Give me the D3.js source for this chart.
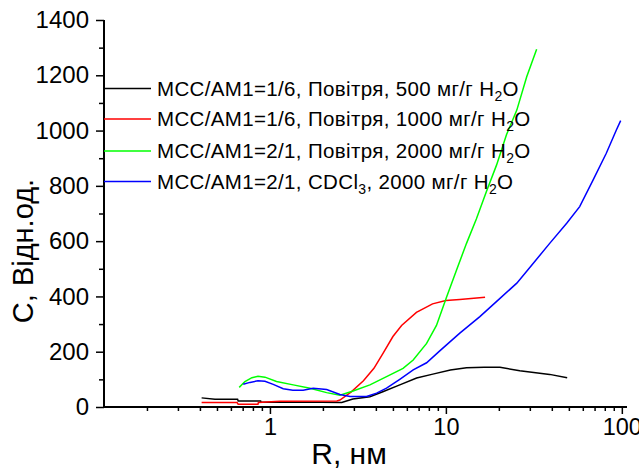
<!DOCTYPE html>
<html><head><meta charset="utf-8">
<script src="https://cdn.jsdelivr.net/npm/d3@7/dist/d3.min.js"></script>
<style>body{margin:0;background:#fff}svg{display:block}text{font-family:"Liberation Sans",Arial,sans-serif;fill:#000}</style>
</head><body>
<script>
// Data (R in nm, C in arbitrary units)
const blackR = [0.409,0.487,0.655,0.66,0.885,0.89,1.39,1.97,2.56,2.96,3.70,4.38,5.47,6.82,8.43,10.6,13.1,16.5,20.3,26.3,38.9,48.9];
const blackC = [33,28,28,22,22,17,17,17,16,29,37,55,80,105,119,134,142,144,144,131,118,106];
const redR = [0.409,0.65,0.66,0.855,0.86,1.14,2.40,2.5,2.9,3.4,3.9,4.4,5.0,5.6,6.8,8.4,10,12,16.7];
const redC = [16,16,10,10,16,21,22,25,55,95,140,195,255,295,342,373,385,389,397];
const greenR = [0.669,0.721,0.79,0.855,0.937,1.09,1.356,1.69,2.10,2.50,2.97,3.70,4.60,5.71,6.52,7.77,8.84,10.06,11.5,13.1,14.9,17.0,19.4,22.1,25.3,28.8,32.8];
const greenC = [71,92,106,111,108,92,80,68,52,43,58,80,110,140,170,230,295,395,496,592,680,780,875,985,1074,1195,1294];
const blueR = [0.705,0.77,0.855,0.937,1.044,1.19,1.35,1.545,1.76,2.10,2.50,2.85,3.54,4.04,4.60,5.47,6.52,7.77,9.23,12.0,15.6,20.3,25.3,31.4,38.9,48.6,57.6,68.6,81.6,93.1,98.5];
const blueC = [82,89,95,93,82,66,61,61,68,63,45,38,38,50,68,100,134,160,203,267,327,393,448,520,592,665,725,821,918,1002,1036];

const yTicks = [0,200,400,600,800,1000,1200,1400];
const yMinor = [100,300,500,700,900,1100,1300];
const xTicks = [1,10,100];
const xMinor = [0.2,0.3,0.4,0.5,0.6,0.7,0.8,0.9,2,3,4,5,6,7,8,9,20,30,40,50,60,70,80,90];

const seriesNames = ["MCC/AM1=1/6, Повітря, 500 мг/г H|2|O","MCC/AM1=1/6, Повітря, 1000 мг/г H|2|O","MCC/AM1=2/1, Повітря, 2000 мг/г H|2|O","MCC/AM1=2/1, CDCl|3|, 2000 мг/г H|2|O"];
const seriesColors = ["#000000","#ff0000","#00ff00","#0000ff"];

const W=639,H=469;
const svg=d3.select("body").append("svg").attr("width",W).attr("height",H);
const x=d3.scaleLog().domain([0.114,107]).range([104,627]);
const y=d3.scaleLinear().domain([0,1400]).range([407,20]);

const series=[[blackR,blackC],[redR,redC],[greenR,greenC],[blueR,blueC]];
const line=d3.line().x(d=>x(d[0])).y(d=>y(d[1]));
series.forEach((s,i)=>{
  const pts=s[0].map((r,j)=>[r,s[1][j]]);
  svg.append("path").datum(pts).attr("d",line).attr("fill","none").attr("stroke",seriesColors[i]).attr("stroke-width",1.5);
});

// Axes
const ax=svg.append("g").attr("transform","translate(0,407)");
ax.call(d3.axisBottom(x).tickValues(xTicks).tickFormat(d3.format("d")).tickSize(7).tickPadding(4));
ax.append("g").call(d3.axisBottom(x).tickValues(xMinor).tickFormat("").tickSize(4));
const ay=svg.append("g").attr("transform","translate(104,0)");
ay.call(d3.axisLeft(y).tickValues(yTicks).tickFormat(d3.format("d")).tickSize(8).tickPadding(7));
ay.append("g").call(d3.axisLeft(y).tickValues(yMinor).tickFormat("").tickSize(5));
svg.selectAll(".tick line").attr("stroke","#000").attr("stroke-width",1.5);
ax.selectAll(".tick text").style("font-size","23.5px").style("font-family","Liberation Sans, Arial");
ay.selectAll(".tick text").style("font-size","24px").style("font-family","Liberation Sans, Arial");
svg.selectAll(".domain").remove();
svg.append("line").attr("x1",104).attr("x2",627).attr("y1",407).attr("y2",407).attr("stroke","#000").attr("stroke-width",2);
svg.append("line").attr("x1",104).attr("x2",104).attr("y1",20).attr("y2",408).attr("stroke","#000").attr("stroke-width",2);

// Titles
svg.append("text").attr("transform","translate(33,251) rotate(-90)").attr("text-anchor","middle").style("font-size","29px").text("C, Відн.од.");
svg.append("text").attr("x",349).attr("y",464).attr("text-anchor","middle").style("font-size","30px").text("R, нм");

// Legend
const legY=[88.5,119,151,181.5];
seriesNames.forEach((n,i)=>{
  svg.append("line").attr("x1",104).attr("x2",151).attr("y1",legY[i]).attr("y2",legY[i]).attr("stroke",seriesColors[i]).attr("stroke-width",1.5);
  const t=svg.append("text").attr("x",157).attr("y",legY[i]+7).style("font-size","20.5px").style("letter-spacing","0.35px");
  n.split("|").forEach((part,k)=>{
    if(k%2===1){ t.append("tspan").attr("dy",5).style("font-size","14px").text(part); }
    else { const ts=t.append("tspan").text(part); if(k>0) ts.attr("dy",-5); }
  });
});
</script>
</body></html>
